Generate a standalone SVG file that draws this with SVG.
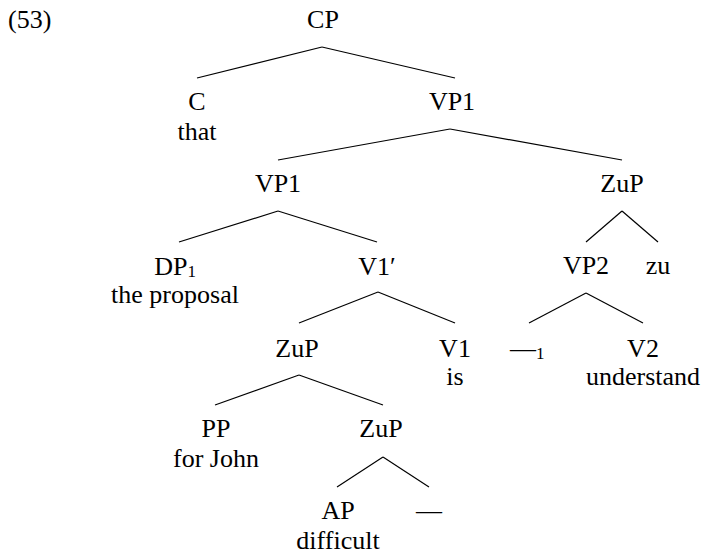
<svg xmlns="http://www.w3.org/2000/svg" width="703" height="556" viewBox="0 0 703 556">
<style>
text{font-size:26px;fill:#000;text-anchor:middle}
.sub{font-size:17px}
.l{text-anchor:start}
#edges line{stroke:#000;stroke-width:1.2}
</style>
<rect width="703" height="556" fill="#fff"/>
<g font-family="Liberation Serif, Tinos, Times New Roman, DejaVu Serif, Noto Serif, serif">
<text class="l" x="8" y="28">(53)</text>
<g id="edges">
<line x1="322" y1="47" x2="197" y2="78"/>
<line x1="322" y1="47" x2="455" y2="78"/>
<line x1="450" y1="129" x2="278" y2="160"/>
<line x1="450" y1="129" x2="622" y2="160"/>
<line x1="278" y1="211" x2="179" y2="242"/>
<line x1="278" y1="211" x2="377" y2="242"/>
<line x1="622" y1="211" x2="586" y2="242"/>
<line x1="622" y1="211" x2="658" y2="242"/>
<line x1="378" y1="292" x2="299" y2="323"/>
<line x1="378" y1="292" x2="455" y2="323"/>
<line x1="586" y1="293" x2="529" y2="323"/>
<line x1="586" y1="293" x2="643" y2="323"/>
<line x1="299" y1="375" x2="215" y2="405"/>
<line x1="299" y1="375" x2="383" y2="405"/>
<line x1="383" y1="457" x2="337" y2="487"/>
<line x1="383" y1="457" x2="429" y2="487"/>
</g>
<g id="CP"><text x="323" y="28">CP</text></g>
<g id="C"><text x="197" y="110">C</text><text x="197" y="140">that</text></g>
<g id="VP1a"><text x="452" y="110">VP1</text></g>
<g id="VP1b"><text x="278" y="192">VP1</text></g>
<g id="ZuPa"><text x="622" y="192">ZuP</text></g>
<g id="DP1"><text x="175" y="275">DP<tspan class="sub" dy="2">1</tspan></text><text x="175" y="303">the proposal</text></g>
<g id="V1bar"><text x="377" y="275">V1′</text></g>
<g id="VP2"><text x="586" y="274">VP2</text></g>
<g id="zu"><text x="658" y="274">zu</text></g>
<g id="ZuPb"><text x="297" y="357">ZuP</text></g>
<g id="V1"><text x="455" y="357">V1</text><text x="455" y="385">is</text></g>
<g id="trace1"><text class="l" x="510" y="357">—<tspan class="sub" dy="2">1</tspan></text></g>
<g id="V2"><text x="643" y="357">V2</text><text x="643" y="385">understand</text></g>
<g id="PP"><text x="216" y="437">PP</text><text x="216" y="467">for John</text></g>
<g id="ZuPc"><text x="381" y="437">ZuP</text></g>
<g id="AP"><text x="338" y="519">AP</text><text x="338" y="549">difficult</text></g>
<g id="trace"><text class="l" x="416" y="519">—</text></g>
</g>
</svg>
